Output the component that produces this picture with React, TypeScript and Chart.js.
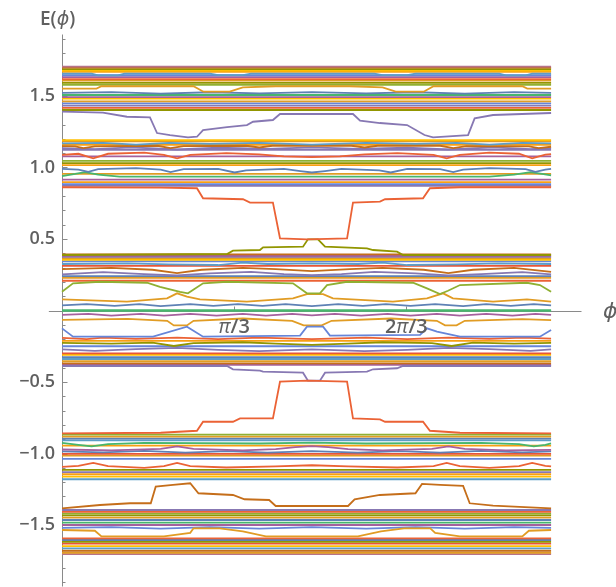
import React, { useEffect, useRef } from "react";
import { Chart, registerables } from "chart.js";
Chart.register(...registerables);

type Pt = [number, number];

// ---- axis ranges / ticks ----
const phiSpan = [0, 2.975];
const xAxisRange = [-0.08, 3.16];
const yAxisRange = [-1.93, 1.93];
const yTickValues = [-1.5, -1.0, -0.5, 0.5, 1.0, 1.5];
const yTickLabels = ["−1.5", "−1.0", "−0.5", "0.5", "1.0", "1.5"];
const yMinorTicks = [-1.9, -1.8, -1.7, -1.6, -1.4, -1.3, -1.2, -1.1, -0.9, -0.8, -0.7, -0.6, -0.4, -0.3, -0.2, -0.1, 0.1, 0.2, 0.3, 0.4, 0.6, 0.7, 0.8, 0.9, 1.1, 1.2, 1.3, 1.4, 1.6, 1.7, 1.8, 1.9];
const xTickValues = [Math.PI / 3, (2 * Math.PI) / 3];
const xTickLabels = ["π/3", "2π/3"];

// ---- palette (Mathematica 97) ----
const P = {
  blue: "#5E81B5", orange: "#E19C24", green: "#8FB032", red: "#EB6235", purple: "#8778B3",
  brown: "#C56E1A", lblue: "#5D9EC7", yellow: "#FFBF00", magenta: "#A5609D", olive: "#929600",
  red2: "#E95536", blue2: "#6685D9", orange2: "#F89F13", pink: "#BC5B80", green2: "#47B66D", mauve: "#B7738A",
};

// ---- flat levels per band ----
const bandA_levels = [1.706, 1.698, 1.688, 1.678, 1.668, 1.645, 1.632, 1.618, 1.607, 1.592, 1.578, 1.507, 1.492, 1.481, 1.462, 1.449, 1.432, 1.417, 1.402];
const bandA_colors = [P.mauve, P.brown, P.olive, P.yellow, P.orange2, P.blue2, P.magenta, P.red, P.orange, P.olive, P.green, P.green2, P.magenta, P.yellow, P.orange, P.blue2, P.purple, P.red, P.olive];
const bandB_levels = [1.192, 1.182, 1.158, 1.124, 1.078, 1.046, 1.030, 1.016, 0.955, 0.915, 0.898, 0.884, 0.872];
const bandB_colors = [P.yellow, P.orange, P.orange2, P.purple, P.magenta, P.green, P.olive, P.orange2, P.orange, P.magenta, P.orange2, P.blue2, P.purple];
const bandC_levels = [0.392, 0.383, 0.376, 0.366, 0.355, 0.343, 0.312, 0.240, 0.228, 0.208, 0.003];
const bandC_colors = [P.brown, P.magenta, P.purple, P.orange, P.yellow, P.blue2, P.red2, P.blue, P.orange, P.red, P.green2];
const bandCn_levels = [-0.003, -0.213, -0.250, -0.300, -0.311, -0.326, -0.339, -0.355, -0.370, -0.380];
const bandCn_colors = [P.green2, P.orange2, P.blue2, P.red2, P.yellow, P.blue, P.lblue, P.orange, P.brown, P.magenta];
const bandBn_levels = [-0.868, -0.882, -0.896, -0.908, -0.945, -1.002, -1.015, -1.038, -1.115, -1.130, -1.145, -1.162, -1.180];
const bandBn_colors = [P.green, P.orange, P.blue, P.lblue, P.orange2, P.red2, P.orange, P.blue2, P.olive, P.purple, P.orange2, P.yellow, P.lblue];
const bandAn_levels = [-1.395, -1.408, -1.420, -1.432, -1.449, -1.465, -1.484, -1.500, -1.593, -1.605, -1.617, -1.630, -1.647, -1.663, -1.680, -1.694, -1.703];
const bandAn_colors = [P.purple, P.red, P.green, P.olive, P.orange, P.blue, P.green2, P.magenta, P.red, P.blue, P.olive, P.red2, P.yellow, P.lblue, P.brown, P.orange, P.mauve];

// ---- featured lines [phi, E] ----
const purpleTop: Pt[] = [[0, 1.390], [0.249, 1.383], [0.395, 1.355], [0.535, 1.351], [0.578, 1.241], [0.657, 1.227], [0.766, 1.211], [0.821, 1.215], [0.858, 1.262], [1.004, 1.283], [1.125, 1.297], [1.162, 1.320], [1.283, 1.332], [1.326, 1.374], [1.770, 1.374], [1.813, 1.327], [1.934, 1.311], [2.099, 1.297], [2.205, 1.227], [2.257, 1.211], [2.470, 1.227], [2.510, 1.344], [2.622, 1.367], [2.975, 1.381]];
const orangeTop: Pt[] = [[0, 1.552], [0.21, 1.552], [0.24, 1.568], [0.8, 1.568], [0.86, 1.53], [1.02, 1.53], [1.1, 1.56], [1.3, 1.568], [1.75, 1.568], [1.95, 1.56], [2.03, 1.53], [2.2, 1.53], [2.26, 1.568], [2.8, 1.568], [2.83, 1.552], [2.975, 1.552]];
const lblueTop: Pt[] = [[0, 1.656], [0.18, 1.656], [0.22, 1.644], [0.34, 1.644], [0.38, 1.656], [0.9, 1.656], [0.95, 1.646], [1.1, 1.646], [1.15, 1.656], [1.9, 1.656], [1.95, 1.646], [2.1, 1.646], [2.15, 1.656], [2.66, 1.656], [2.7, 1.644], [2.82, 1.644], [2.86, 1.656], [2.975, 1.656]];
const blueTop: Pt[] = [[0, 1.522], [0.3, 1.527], [0.6, 1.517], [0.9, 1.526], [1.2, 1.519], [1.52, 1.527], [1.85, 1.519], [2.15, 1.526], [2.45, 1.517], [2.75, 1.527], [2.975, 1.522]];

const redMid: Pt[] = [[0, 0.862], [0.6, 0.859], [0.821, 0.855], [0.858, 0.785], [1.101, 0.778], [1.144, 0.754], [1.283, 0.754], [1.326, 0.505], [1.49, 0.498], [1.734, 0.505], [1.770, 0.754], [1.934, 0.761], [1.965, 0.778], [2.196, 0.785], [2.238, 0.855], [2.421, 0.862], [2.975, 0.862]];
const lblueB: Pt[] = [[0, 1.168], [0.25, 1.172], [0.45, 1.16], [0.65, 1.172], [0.9, 1.165], [1.2, 1.172], [1.52, 1.16], [1.85, 1.172], [2.15, 1.165], [2.4, 1.172], [2.6, 1.16], [2.8, 1.172], [2.975, 1.168]];
const brownB: Pt[] = [[0, 1.15], [0.08, 1.148], [0.13, 1.136], [0.2, 1.148], [0.58, 1.152], [0.66, 1.136], [0.74, 1.15], [1.12, 1.152], [1.2, 1.14], [1.28, 1.152], [1.76, 1.152], [1.84, 1.14], [1.92, 1.152], [2.3, 1.152], [2.38, 1.136], [2.46, 1.15], [2.84, 1.148], [2.9, 1.136], [2.975, 1.145]];
const purpleB: Pt[] = [[0, 1.136], [0.2, 1.128], [0.42, 1.14], [0.7, 1.126], [0.95, 1.138], [1.25, 1.13], [1.52, 1.14], [1.8, 1.13], [2.1, 1.138], [2.35, 1.126], [2.62, 1.14], [2.85, 1.128], [2.975, 1.136]];
const redB: Pt[] = [[0, 1.088], [0.1, 1.096], [0.19, 1.064], [0.28, 1.096], [0.5, 1.104], [0.62, 1.088], [0.7, 1.064], [0.78, 1.088], [1.0, 1.1], [1.2, 1.092], [1.35, 1.078], [1.52, 1.072], [1.69, 1.078], [1.84, 1.092], [2.04, 1.1], [2.26, 1.088], [2.34, 1.064], [2.42, 1.088], [2.6, 1.104], [2.78, 1.096], [2.86, 1.064], [2.94, 1.09], [2.975, 1.094]];
const blueB: Pt[] = [[0, 0.99], [0.1, 0.985], [0.16, 0.97], [0.22, 0.988], [0.45, 0.995], [0.6, 0.985], [0.66, 0.968], [0.74, 0.988], [0.95, 0.99], [1.05, 0.965], [1.12, 0.98], [1.35, 0.99], [1.45, 0.975], [1.52, 0.965], [1.6, 0.975], [1.7, 0.99], [1.93, 0.98], [2.0, 0.965], [2.1, 0.99], [2.3, 0.988], [2.38, 0.968], [2.44, 0.985], [2.6, 0.995], [2.82, 0.988], [2.88, 0.97], [2.94, 0.985], [2.975, 0.99]];
const greenB: Pt[] = [[0, 0.94], [0.08, 0.955], [0.14, 0.968], [0.22, 0.95], [0.35, 0.936], [2.6, 0.936], [2.75, 0.95], [2.85, 0.968], [2.92, 0.955], [2.975, 0.945]];

const oliveC: Pt[] = [[0, 0.388], [1.004, 0.395], [1.040, 0.418], [1.204, 0.423], [1.223, 0.442], [1.466, 0.446], [1.496, 0.498], [1.557, 0.498], [1.600, 0.446], [1.855, 0.435], [1.892, 0.423], [2.038, 0.411], [2.074, 0.388], [2.975, 0.388]];
const lblueC: Pt[] = [[0, 0.325], [0.4, 0.33], [0.65, 0.322], [0.95, 0.318], [1.1, 0.335], [1.25, 0.325], [1.52, 0.33], [1.8, 0.325], [1.95, 0.335], [2.1, 0.318], [2.4, 0.322], [2.65, 0.33], [2.975, 0.325]];
const brownC: Pt[] = [[0, 0.29], [0.3, 0.298], [0.55, 0.285], [0.7, 0.262], [0.85, 0.285], [1.1, 0.298], [1.3, 0.29], [1.52, 0.275], [1.75, 0.29], [1.95, 0.298], [2.2, 0.285], [2.35, 0.262], [2.5, 0.285], [2.75, 0.298], [2.975, 0.27]];
const purpleC: Pt[] = [[0, 0.252], [0.25, 0.268], [0.5, 0.255], [0.7, 0.245], [0.9, 0.26], [1.15, 0.27], [1.35, 0.255], [1.52, 0.248], [1.7, 0.255], [1.9, 0.27], [2.15, 0.26], [2.35, 0.245], [2.55, 0.255], [2.8, 0.268], [2.975, 0.252]];
const greenLow: Pt[] = [[0, 0.131], [0.067, 0.190], [0.231, 0.201], [0.517, 0.194], [0.596, 0.166], [0.718, 0.131], [0.766, 0.120], [0.858, 0.190], [1.004, 0.201], [1.405, 0.190], [1.490, 0.120], [1.569, 0.120], [1.612, 0.178], [1.734, 0.201], [2.135, 0.194], [2.220, 0.155], [2.299, 0.115], [2.348, 0.138], [2.421, 0.178], [2.828, 0.194], [2.907, 0.178], [2.975, 0.131]];
const orangeLow: Pt[] = [[0, 0.078], [0.395, 0.062], [0.639, 0.085], [0.700, 0.120], [0.760, 0.097], [0.839, 0.078], [1.125, 0.062], [1.405, 0.085], [1.490, 0.115], [1.588, 0.115], [1.648, 0.085], [2.013, 0.062], [2.220, 0.085], [2.318, 0.120], [2.378, 0.085], [2.622, 0.062], [2.828, 0.078], [2.975, 0.062]];
const blueC: Pt[] = [[0, 0.036], [0.15, 0.044], [0.32, 0.032], [0.47, 0.044], [0.6, 0.031], [0.78, 0.044], [0.92, 0.033], [1.07, 0.045], [1.22, 0.032], [1.36, 0.044], [1.52, 0.031], [1.68, 0.044], [1.83, 0.032], [1.97, 0.045], [2.12, 0.033], [2.27, 0.044], [2.44, 0.031], [2.58, 0.044], [2.73, 0.032], [2.87, 0.044], [2.975, 0.036]];

const magentaCn: Pt[] = [[0, -0.03], [0.16, -0.024], [0.3, -0.036], [0.48, -0.024], [0.62, -0.036], [0.78, -0.024], [0.94, -0.036], [1.1, -0.024], [1.24, -0.036], [1.4, -0.024], [1.52, -0.034], [1.66, -0.024], [1.82, -0.036], [1.98, -0.024], [2.12, -0.036], [2.28, -0.024], [2.42, -0.036], [2.58, -0.024], [2.74, -0.036], [2.88, -0.024], [2.975, -0.03]];
const orangeLowNeg: Pt[] = [[0, -0.066], [0.4, -0.058], [0.64, -0.072], [0.68, -0.104], [0.76, -0.104], [0.8, -0.072], [1.1, -0.056], [1.4, -0.072], [1.47, -0.104], [1.58, -0.104], [1.64, -0.072], [2.0, -0.056], [2.28, -0.072], [2.33, -0.104], [2.4, -0.104], [2.45, -0.072], [2.8, -0.06], [2.975, -0.068]];
const blueLowNeg: Pt[] = [[0, -0.125], [0.067, -0.183], [0.554, -0.183], [0.760, -0.113], [0.858, -0.183], [1.448, -0.176], [1.490, -0.113], [1.588, -0.113], [1.630, -0.176], [2.178, -0.171], [2.220, -0.125], [2.281, -0.148], [2.421, -0.183], [2.907, -0.183], [2.975, -0.137]];
const redCn: Pt[] = [[0, -0.192], [0.15, -0.2], [0.25, -0.19], [0.45, -0.198], [0.7, -0.19], [0.95, -0.2], [1.2, -0.19], [1.52, -0.2], [1.85, -0.19], [2.1, -0.2], [2.35, -0.19], [2.6, -0.198], [2.8, -0.19], [2.975, -0.196]];
const oliveCn: Pt[] = [[0, -0.226], [0.3, -0.232], [0.55, -0.225], [0.68, -0.248], [0.8, -0.228], [1.1, -0.222], [1.3, -0.232], [1.52, -0.24], [1.74, -0.232], [1.95, -0.222], [2.25, -0.228], [2.37, -0.248], [2.5, -0.225], [2.75, -0.232], [2.975, -0.226]];
const purpleCn: Pt[] = [[0, -0.272], [0.2, -0.282], [0.45, -0.27], [0.7, -0.262], [0.95, -0.276], [1.2, -0.284], [1.52, -0.272], [1.84, -0.284], [2.1, -0.276], [2.35, -0.262], [2.6, -0.27], [2.85, -0.282], [2.975, -0.272]];
const purpleMidNeg: Pt[] = [[0, -0.388], [1.004, -0.388], [1.040, -0.411], [1.204, -0.421], [1.223, -0.428], [1.466, -0.435], [1.496, -0.491], [1.569, -0.491], [1.600, -0.435], [1.855, -0.428], [1.892, -0.411], [2.038, -0.404], [2.074, -0.388], [2.975, -0.388]];

const redMidNeg: Pt[] = [[0, -0.859], [0.6, -0.855], [0.821, -0.841], [0.858, -0.778], [1.040, -0.778], [1.083, -0.754], [1.283, -0.754], [1.326, -0.498], [1.49, -0.491], [1.734, -0.498], [1.770, -0.754], [1.934, -0.761], [1.965, -0.778], [2.196, -0.778], [2.238, -0.841], [2.421, -0.855], [2.975, -0.859]];
const greenBn: Pt[] = [[0, -0.926], [0.1, -0.94], [0.18, -0.95], [0.28, -0.935], [0.5, -0.926], [1.2, -0.93], [1.52, -0.924], [1.85, -0.93], [2.55, -0.926], [2.78, -0.935], [2.87, -0.95], [2.94, -0.94], [2.975, -0.93]];
const magentaBn: Pt[] = [[0, -0.972], [0.3, -0.978], [0.6, -0.968], [0.7, -0.95], [0.8, -0.968], [1.1, -0.978], [1.3, -0.97], [1.42, -0.955], [1.52, -0.948], [1.62, -0.955], [1.74, -0.97], [1.95, -0.978], [2.25, -0.968], [2.35, -0.95], [2.45, -0.968], [2.7, -0.978], [2.975, -0.975]];
const blueBn: Pt[] = [[0, -0.985], [0.25, -0.992], [0.5, -0.982], [0.75, -0.994], [1.0, -0.984], [1.25, -0.994], [1.52, -0.984], [1.8, -0.994], [2.05, -0.984], [2.3, -0.994], [2.55, -0.982], [2.8, -0.992], [2.975, -0.985]];
const redBn: Pt[] = [[0, -1.094], [0.1, -1.086], [0.19, -1.066], [0.28, -1.088], [0.5, -1.1], [0.62, -1.088], [0.7, -1.066], [0.78, -1.088], [1.0, -1.098], [1.3, -1.09], [1.52, -1.082], [1.74, -1.09], [2.04, -1.098], [2.26, -1.088], [2.34, -1.066], [2.42, -1.088], [2.6, -1.1], [2.78, -1.088], [2.86, -1.066], [2.94, -1.086], [2.975, -1.09]];

const brownBottom: Pt[] = [[0, -1.383], [0.231, -1.360], [0.414, -1.348], [0.540, -1.348], [0.570, -1.232], [0.675, -1.220], [0.780, -1.208], [0.830, -1.278], [1.040, -1.290], [1.110, -1.320], [1.260, -1.325], [1.300, -1.367], [1.740, -1.367], [1.780, -1.320], [1.934, -1.290], [2.150, -1.278], [2.190, -1.213], [2.300, -1.220], [2.440, -1.227], [2.480, -1.348], [2.622, -1.365], [2.975, -1.383]];
const orangeBottom: Pt[] = [[0, -1.535], [0.2, -1.54], [0.24, -1.58], [0.62, -1.58], [0.78, -1.555], [0.8, -1.523], [0.96, -1.523], [1.1, -1.545], [1.24, -1.58], [1.8, -1.58], [1.94, -1.545], [2.08, -1.523], [2.24, -1.523], [2.27, -1.555], [2.42, -1.58], [2.8, -1.58], [2.84, -1.54], [2.975, -1.535]];
const blueBottom: Pt[] = [[0, -1.52], [0.3, -1.515], [0.6, -1.525], [0.9, -1.515], [1.2, -1.525], [1.52, -1.515], [1.85, -1.525], [2.15, -1.515], [2.45, -1.525], [2.75, -1.515], [2.975, -1.52]];

const featuredLines: [Pt[], string][] = [
  [redMid, P.red], [redMidNeg, P.red], [purpleTop, P.purple], [brownBottom, P.brown],
  [oliveC, P.olive], [purpleMidNeg, P.purple], [greenLow, P.green], [blueLowNeg, P.blue2],
  [orangeLow, P.orange], [orangeLowNeg, P.orange], [orangeTop, P.orange], [orangeBottom, P.orange],
  [lblueTop, P.lblue], [blueTop, P.blue], [lblueB, P.lblue], [brownB, P.brown], [purpleB, P.purple], [redB, P.red],
  [blueB, P.blue], [greenB, P.green2], [lblueC, P.lblue], [brownC, P.brown], [purpleC, P.purple],
  [blueC, P.blue], [magentaCn, P.magenta], [redCn, P.red], [oliveCn, P.olive], [purpleCn, P.purple],
  [greenBn, P.green2], [magentaBn, P.magenta], [blueBn, P.blue], [redBn, P.red], [blueBottom, P.blue2],
];

const flatBands: [number[], string[]][] = [
  [bandA_levels, bandA_colors], [bandB_levels, bandB_colors], [bandC_levels, bandC_colors],
  [bandCn_levels, bandCn_colors], [bandBn_levels, bandBn_colors], [bandAn_levels, bandAn_colors],
];

const TEXT = "#606060";
const AXIS = "#8a8a8a";
const FONT = "'Open Sans', 'DejaVu Sans', sans-serif";

function drawMixed(ctx: CanvasRenderingContext2D, text: string, x: number, y: number, size: number, align: "left" | "center") {
  const parts: { t: string; it: boolean }[] = [];
  for (const ch of text) {
    const it = /[πϕφ]/.test(ch);
    if (parts.length && parts[parts.length - 1].it === it) parts[parts.length - 1].t += ch;
    else parts.push({ t: ch, it });
  }
  const fontOf = (it: boolean) => `${it ? "italic 500" : "600"} ${size}px ${FONT}`;
  let total = 0;
  for (const p of parts) { ctx.font = fontOf(p.it); total += ctx.measureText(p.t).width; }
  let cx = align === "center" ? x - total / 2 : x;
  ctx.textAlign = "left";
  for (const p of parts) { ctx.font = fontOf(p.it); ctx.fillText(p.t, cx, y); cx += ctx.measureText(p.t).width; }
}

const axesPlugin = {
  id: "mmaAxes",
  beforeDatasetsDraw(chart: any) {
    const { ctx, chartArea } = chart;
    const xs = chart.scales.x, ys = chart.scales.y;
    const x0 = Math.round(xs.getPixelForValue(0)) + 0.5;
    const y0 = Math.round(ys.getPixelForValue(0)) + 0.5;
    ctx.save();
    ctx.strokeStyle = AXIS;
    ctx.lineWidth = 1;
    ctx.beginPath();
    ctx.moveTo(chartArea.left, y0); ctx.lineTo(chartArea.right, y0);
    ctx.moveTo(x0, chartArea.top); ctx.lineTo(x0, chartArea.bottom);
    for (const v of yMinorTicks) { const py = Math.round(ys.getPixelForValue(v)) + 0.5; ctx.moveTo(x0, py); ctx.lineTo(x0 + 3, py); }
    for (const v of yTickValues) { const py = Math.round(ys.getPixelForValue(v)) + 0.5; ctx.moveTo(x0, py); ctx.lineTo(x0 + 5, py); }
    for (const v of xTickValues) { const px = Math.round(xs.getPixelForValue(v)) + 0.5; ctx.moveTo(px, y0); ctx.lineTo(px, y0 - 5); }
    ctx.stroke();
    ctx.restore();
  },
  afterDatasetsDraw(chart: any) {
    const { ctx } = chart;
    const xs = chart.scales.x, ys = chart.scales.y;
    const x0 = xs.getPixelForValue(0);
    const y0 = ys.getPixelForValue(0);
    ctx.save();
    ctx.fillStyle = TEXT;
    ctx.textBaseline = "middle";
    ctx.font = `600 18px ${FONT}`;
    ctx.textAlign = "right";
    yTickValues.forEach((v, i) => ctx.fillText(yTickLabels[i], x0 - 7, ys.getPixelForValue(v)));
    ctx.textBaseline = "top";
    xTickValues.forEach((v, i) => drawMixed(ctx, xTickLabels[i], xs.getPixelForValue(v), y0 + 7, 20, "center"));
    ctx.textBaseline = "alphabetic";
    drawMixed(ctx, "E(ϕ)", x0 - 22, 25, 19, "left");
    ctx.textBaseline = "middle";
    drawMixed(ctx, "ϕ", 603, y0 + 1, 22, "left");
    ctx.restore();
  },
};

export default function App() {
  const ref = useRef<HTMLCanvasElement | null>(null);
  useEffect(() => {
    if (!ref.current) return;
    const datasets: any[] = [];
    const base = { pointRadius: 0, borderWidth: 1.8, tension: 0, fill: false };
    for (const [pts, color] of featuredLines) {
      datasets.push({ ...base, data: pts.map(([x, y]) => ({ x, y })), borderColor: color });
    }
    for (const [levels, colors] of flatBands) {
      levels.forEach((lv, i) => {
        datasets.push({ ...base, data: [{ x: phiSpan[0], y: lv }, { x: phiSpan[1], y: lv }], borderColor: colors[i % colors.length] });
      });
    }
    const chart = new Chart(ref.current, {
      type: "line",
      data: { datasets },
      options: {
        animation: false,
        responsive: false,
        maintainAspectRatio: false,
        devicePixelRatio: 1,
        events: [],
        layout: { padding: { left: 48.85, right: 34.5, top: 34.5, bottom: 0.5 } },
        plugins: { legend: { display: false }, tooltip: { enabled: false } },
        scales: {
          x: { type: "linear", min: xAxisRange[0], max: xAxisRange[1], display: false },
          y: { type: "linear", min: yAxisRange[0], max: yAxisRange[1], display: false },
        },
      },
      plugins: [axesPlugin],
    } as any);
    return () => chart.destroy();
  }, []);
  return (
    <div style={{ position: "fixed", left: 0, top: 0, width: 616, height: 587, background: "#fff" }}>
      <canvas ref={ref} width={616} height={587} style={{ display: "block" }} />
    </div>
  );
}
